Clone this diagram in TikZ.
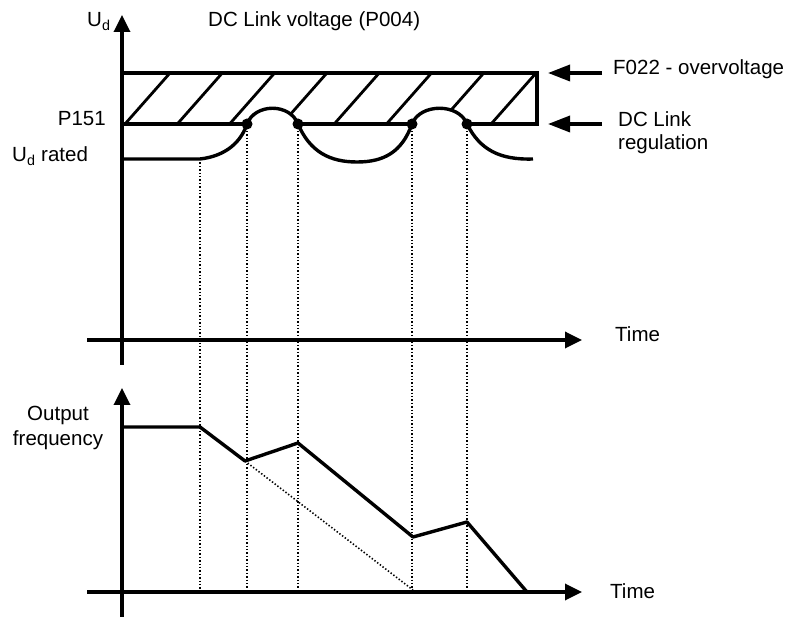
\documentclass[tikz,border=0pt]{standalone}
\usepackage{fontspec}
\setmainfont{Liberation Sans}
\usetikzlibrary{arrows.meta}
\tikzset{axis/.style = {line width=3.4pt, -{Triangle[length=17pt,width=16pt]}}}
\tikzset{curve/.style = {line width=3.4pt}}
\tikzset{guide/.style = {line width=1.6pt, dash pattern=on 1.4pt off 2pt}}
\tikzset{hatch/.style = {line width=2.8pt}}
\tikzset{lbl/.style = {inner sep=0, font=\fontsize{20.5}{24}\selectfont}}
\tikzset{pointer/.style = {line width=3.4pt, -{Triangle[length=22pt,width=16pt]}}}
\tikzset{circ/.style = {fill, circle, inner sep = 0, minimum size = 11pt}}
\begin{document}
\begin{tikzpicture}[x=1pt,y=-1pt]
            \useasboundingbox (0,0) rectangle (788,617);
            \coordinate (k1) at (200,159);
            \coordinate (a1) at (247,124);
            \coordinate (a2) at (298,124);
            \coordinate (b1) at (412,124);
            \coordinate (b2) at (467,124);
            \coordinate (f0) at (122,427);
            \coordinate (f1) at (200,427);
            \coordinate (f2) at (245,461);
            \coordinate (f3) at (298,443);
            \coordinate (f4) at (413,537);
            \coordinate (f5) at (467,522);
            \coordinate (f6) at (527,592);
            \coordinate (t1) at (413,590);
            % hatched band above P151
            \begin{scope}
                \clip (122,73) rectangle (537,124);
                \foreach \t in {-1,...,7}
                    \draw [hatch] ({125+52.3*\t},124)--({170+52.3*\t},73);
            \end{scope}
            \fill [white] (a1) .. controls (255,103) and (290,103) .. (a2) -- cycle;
            \fill [white] (b1) .. controls (420,103) and (459,103) .. (b2) -- cycle;
            \draw [curve] (122,73)--(537,73)--(537,124)--(b2);
            \draw [curve] (b1)--(a2);
            \draw [curve] (a1)--(122,124);
            \foreach \x/\y in {200/159, 247/124, 298/124, 412/124, 467/124}
                \draw [guide] (\x,\y)--(\x,592);
            \draw [guide] (f2)--(t1);
            % axes
            \draw [axis] (122,365)--(122,15);
            \draw [axis] (87,340)--(582,340);
            \draw [axis] (122,617)--(122,388);
            \draw [axis] (87,592)--(582,592);
            \draw [curve] (122,159)--(k1) .. controls (226,156) and (241,142) .. (a1)
                .. controls (255,103) and (290,103) .. (a2)
                .. controls (310,152) and (330,162) .. (357,162)
                .. controls (384,162) and (402,152) .. (b1)
                .. controls (420,103) and (459,103) .. (b2)
                .. controls (480,150) and (500,160) .. (533,159);
            \foreach \p in {a1,a2,b1,b2}
                \node [circ] at (\p) {};
            \draw [curve, line join=round] (f0)--(f1)--(f2)--(f3)--(f4)--(f5)--(f6);
            \draw [pointer] (602,73)--(548,73);
            \draw [pointer] (602,124)--(548,124);
            \node [lbl, anchor=base west] (ud) at (87,27) {U\textsubscript{d}};
            \node [lbl, anchor=base west] (title) at (208,27) {DC Link voltage (P004)};
            \node [lbl, anchor=base west] (fault) at (613,75) {F022 - overvoltage};
            \node [lbl, anchor=base west] (reg1) at (618,127) {DC Link};
            \node [lbl, anchor=base west] (reg2) at (618,150) {regulation};
            \node [lbl, anchor=base east] (p151) at (106,126) {P151};
            \node [lbl, anchor=base west] (rated) at (12,162) {U\textsubscript{d} rated};
            \node [lbl, anchor=base west] (time1) at (615,342) {Time};
            \node [lbl, anchor=base west] (time2) at (610,598) {Time};
            \node [lbl, anchor=base] (out1) at (58,421) {Output};
            \node [lbl, anchor=base] (out2) at (58,446) {frequency};
        \end{tikzpicture}
\end{document}
